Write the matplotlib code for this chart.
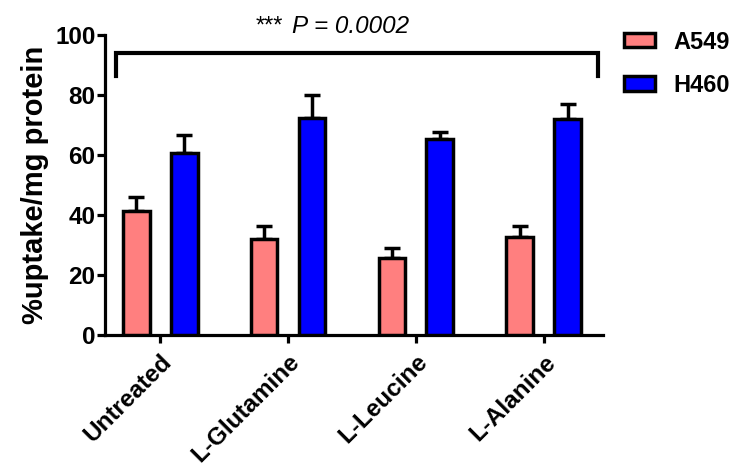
import numpy as np
import matplotlib
matplotlib.use("Agg")
import matplotlib.pyplot as plt

plt.rcParams["font.family"] = ["Liberation Sans", "DejaVu Sans"]

groups = ["Untreated", "L-Glutamine", "L-Leucine", "L-Alanine"]
a549_mean = [41.3, 31.9, 25.6, 32.8]
a549_err = [4.8, 4.4, 3.3, 3.5]
h460_mean = [60.6, 72.4, 65.2, 71.9]
h460_err = [6.0, 7.6, 2.4, 5.0]

x = np.arange(len(groups))
width = 0.21
offset = 0.1875

fig = plt.figure(figsize=(7.35, 4.66), dpi=100)
ax = fig.add_axes([0.143, 0.281, 0.677, 0.644])

err_kw = dict(elinewidth=2.5, capthick=2.5, capsize=6, ecolor="black")
ax.bar(x - offset, a549_mean, width, color="#FF7F7F", edgecolor="black",
       linewidth=2.5, label="A549", zorder=3)
ax.errorbar(x - offset, a549_mean, yerr=[np.zeros(4), a549_err], fmt="none",
            zorder=2, **err_kw)
ax.bar(x + offset, h460_mean, width, color="#0000FF", edgecolor="black",
       linewidth=2.5, label="H460", zorder=3)
ax.errorbar(x + offset, h460_mean, yerr=[np.zeros(4), h460_err], fmt="none",
            zorder=2, **err_kw)

# significance bracket
ax.plot([-0.346, -0.346, 3.42, 3.42], [86.3, 93.9, 93.9, 86.3],
        color="black", linewidth=3, clip_on=False, solid_joinstyle="miter")
ax.text(0.96, 100.7, "***", ha="right", va="baseline", fontsize=17)
ax.text(1.03, 100.7, "P = 0.0002", ha="left", va="baseline", fontsize=17.5,
        style="italic")

ax.set_xlim(-0.43, 3.46)
ax.set_ylim(0, 100)
ax.set_yticks([0, 20, 40, 60, 80, 100])
ax.set_xticks(x)
ax.set_xticklabels(groups, rotation=45, ha="right", rotation_mode="anchor",
                   fontsize=17.5, fontweight="bold")
for lab in ax.get_yticklabels():
    lab.set_fontsize(17.5)
    lab.set_fontweight("bold")
ax.set_ylabel("%uptake/mg protein", fontsize=21, fontweight="bold", labelpad=4)

for side in ["top", "right"]:
    ax.spines[side].set_visible(False)
for side in ["left", "bottom"]:
    ax.spines[side].set_linewidth(2.3)
ax.tick_params(axis="both", width=2.3, length=6, direction="out")
ax.tick_params(axis="y", pad=1)
ax.tick_params(axis="x", pad=5)

leg = ax.legend(loc="upper left", bbox_to_anchor=(1.0, 1.085), frameon=False,
                prop={"size": 17, "weight": "bold"}, handlelength=1.3,
                handleheight=0.55, labelspacing=0.85, handletextpad=0.8)

fig.savefig("out.png", dpi=100)
